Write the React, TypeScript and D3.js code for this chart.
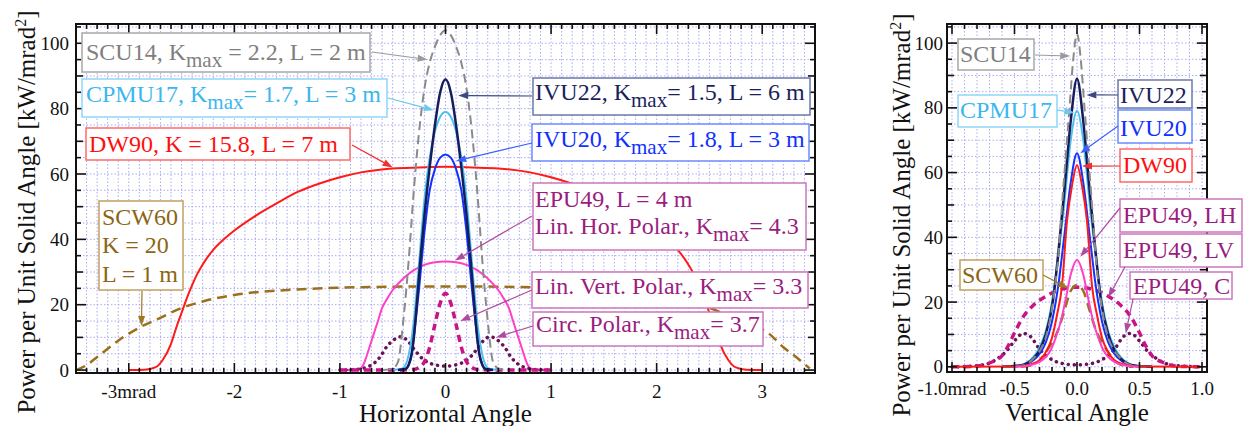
import React from "react";
import * as d3 from "d3";

type Pt = [number, number];

// ---------- Horizontal angle profiles [mrad, kW/mrad^2] ----------
const H_SCW60: Pt[] = [[-3.5,0],[-3.4,1.5],[-3.3,4],[-3.2,6.5],[-3.1,9],[-2.9,13],[-2.7,16],[-2.5,19],[-2.3,21],[-2.0,23],[-1.5,24.5],[-1.0,25.2],[-0.5,25.5],[0,25.6],[0.5,25.5],[1.0,25.2],[1.5,24.5],[2.0,23],[2.3,21],[2.5,19],[2.7,16.5],[2.9,14],[3.07,11],[3.2,7],[3.3,4.5],[3.45,0.5]];
const H_DW90: Pt[] = [[-3.0,0],[-2.85,0.1],[-2.75,0.8],[-2.68,3],[-2.6,8],[-2.55,13],[-2.5,17.5],[-2.45,22],[-2.4,26],[-2.35,29.5],[-2.3,32.3],[-2.2,36.8],[-2.1,40],[-2.0,42.7],[-1.8,47.2],[-1.6,51],[-1.4,54.5],[-1.2,57],[-1.0,59],[-0.8,60.5],[-0.5,61.7],[-0.25,62],[0,62.2],[0.25,62],[0.5,61.7],[0.8,60.5],[1.0,59],[1.2,57],[1.4,54.5],[1.6,51],[1.8,47.2],[2.0,42.7],[2.1,40],[2.2,36.8],[2.3,32.3],[2.35,29.5],[2.4,26],[2.45,22],[2.5,17.5],[2.55,13],[2.6,8],[2.68,3],[2.75,0.8],[2.85,0.1],[3.0,0]];
const H_EPU49_LH: Pt[] = [[-1,0],[-0.9,0],[-0.82,0.3],[-0.78,1.5],[-0.75,4],[-0.72,7],[-0.68,11],[-0.64,15],[-0.6,19],[-0.55,22],[-0.5,24.5],[-0.4,28],[-0.3,30.6],[-0.2,32.2],[-0.1,33],[0,33.2],[0.1,33],[0.2,32.2],[0.3,30.6],[0.4,28],[0.5,24.5],[0.55,22],[0.6,19],[0.64,15],[0.68,11],[0.72,7],[0.75,4],[0.78,1.5],[0.82,0.3],[0.9,0],[1,0]];
const H_EPU49_C: Pt[] = [[-1,0],[-0.85,0.2],[-0.75,0.8],[-0.68,2],[-0.62,4],[-0.56,7],[-0.5,9],[-0.42,10.2],[-0.36,9],[-0.3,6.5],[-0.25,4.5],[-0.2,3],[-0.1,1.6],[0,1.2],[0.1,1.6],[0.2,3],[0.25,4.5],[0.3,6.5],[0.36,9],[0.42,10.2],[0.5,9],[0.56,7],[0.62,4],[0.68,2],[0.75,0.8],[0.85,0.2],[1,0]];
const H_EPU49_LV: Pt[] = [[-1,0],[-0.5,0],[-0.3,0.2],[-0.25,0.8],[-0.2,2.5],[-0.15,7],[-0.1,14],[-0.05,20.5],[0,23.5],[0.05,20.5],[0.1,14],[0.15,7],[0.2,2.5],[0.25,0.8],[0.3,0.2],[0.5,0],[1,0]];
const H_SCU14: Pt[] = [[-0.6,0],[-0.5,0.5],[-0.45,2.5],[-0.4,15],[-0.35,33],[-0.3,55],[-0.25,73],[-0.2,86],[-0.15,94],[-0.1,99],[-0.05,102.5],[0,104],[0.05,102.5],[0.1,99],[0.15,94],[0.2,86],[0.25,73],[0.3,55],[0.35,33],[0.4,15],[0.45,2.5],[0.5,0.5],[0.6,0]];
const H_CPMU17: Pt[] = [[-0.5,0],[-0.42,0.3],[-0.38,1.5],[-0.35,4.5],[-0.3,15],[-0.25,33],[-0.2,52],[-0.15,65],[-0.1,73],[-0.05,77.5],[0,79],[0.05,77.5],[0.1,73],[0.15,65],[0.2,52],[0.25,33],[0.3,15],[0.35,4.5],[0.38,1.5],[0.42,0.3],[0.5,0]];
const H_IVU20: Pt[] = [[-0.45,0],[-0.38,0.3],[-0.35,1.5],[-0.32,5],[-0.3,10],[-0.25,25],[-0.2,42],[-0.15,55],[-0.1,61.5],[-0.05,65],[0,66],[0.05,65],[0.1,61.5],[0.15,55],[0.2,42],[0.25,25],[0.3,10],[0.32,5],[0.35,1.5],[0.38,0.3],[0.45,0]];
const H_IVU22: Pt[] = [[-0.45,0],[-0.38,0.3],[-0.35,1.5],[-0.32,5],[-0.3,10],[-0.27,21],[-0.24,33],[-0.2,47],[-0.15,62],[-0.1,75],[-0.05,85],[0,89],[0.05,85],[0.1,75],[0.15,62],[0.2,47],[0.24,33],[0.27,21],[0.3,10],[0.32,5],[0.35,1.5],[0.38,0.3],[0.45,0]];

// ---------- Vertical angle profiles [mrad, kW/mrad^2] ----------
const V_SCW60: Pt[] = [[-0.45,0],[-0.35,0.6],[-0.3,2],[-0.25,4.5],[-0.2,7.5],[-0.15,11.5],[-0.1,17.5],[-0.05,23.5],[0,25.3],[0.05,23.5],[0.1,17.5],[0.15,11.5],[0.2,7.5],[0.25,4.5],[0.3,2],[0.35,0.6],[0.45,0]];
const V_DW90: Pt[] = [[-1,0],[-0.5,0.1],[-0.4,0.5],[-0.3,2],[-0.25,4.5],[-0.2,9],[-0.16,16],[-0.12,25],[-0.08,45],[-0.04,56],[0,62.3],[0.04,56],[0.08,45],[0.12,25],[0.16,16],[0.2,9],[0.25,4.5],[0.3,2],[0.4,0.5],[0.5,0.1],[1,0]];
const V_EPU49_LH: Pt[] = [[-0.5,0],[-0.4,0.3],[-0.3,1.5],[-0.25,3],[-0.21,5.2],[-0.17,9],[-0.13,14],[-0.09,21],[-0.05,28.5],[0,33],[0.05,28.5],[0.09,21],[0.13,14],[0.17,9],[0.21,5.2],[0.25,3],[0.3,1.5],[0.4,0.3],[0.5,0]];
const V_EPU49_C: Pt[] = [[-1,0],[-0.85,0.2],[-0.75,0.6],[-0.68,1.5],[-0.62,3],[-0.56,5],[-0.5,8],[-0.43,10.3],[-0.37,9.3],[-0.31,6],[-0.25,3.5],[-0.2,2.2],[-0.1,0.9],[0,0.6],[0.1,0.9],[0.2,2.2],[0.25,3.5],[0.31,6],[0.37,9.3],[0.43,10.3],[0.5,8],[0.56,5],[0.62,3],[0.68,1.5],[0.75,0.6],[0.85,0.2],[1,0]];
const V_EPU49_LV: Pt[] = [[-1,0],[-0.85,0.1],[-0.75,0.5],[-0.68,1.5],[-0.61,3],[-0.55,6.5],[-0.5,10.5],[-0.43,15.5],[-0.35,19],[-0.24,22],[-0.12,24],[0,24.6],[0.12,24],[0.24,22],[0.35,19],[0.43,15.5],[0.5,10.5],[0.55,6.5],[0.61,3],[0.68,1.5],[0.75,0.5],[0.85,0.1],[1,0]];
const V_SCU14: Pt[] = [[-0.6,0],[-0.45,0.3],[-0.35,2.5],[-0.29,5.5],[-0.25,9],[-0.2,18],[-0.15,34],[-0.12,50],[-0.09,65],[-0.06,80],[-0.03,95],[0,103],[0.03,95],[0.06,80],[0.09,65],[0.12,50],[0.15,34],[0.2,18],[0.25,9],[0.29,5.5],[0.35,2.5],[0.45,0.3],[0.6,0]];
const V_CPMU17: Pt[] = [[-0.6,0],[-0.45,0.6],[-0.35,3],[-0.3,6],[-0.25,11],[-0.2,20],[-0.15,34],[-0.1,51],[-0.05,70],[0,79],[0.05,70],[0.1,51],[0.15,34],[0.2,20],[0.25,11],[0.3,6],[0.35,3],[0.45,0.6],[0.6,0]];
const V_IVU20: Pt[] = [[-0.6,0],[-0.45,0.4],[-0.35,2],[-0.3,4],[-0.25,7.5],[-0.2,14],[-0.15,25],[-0.1,41],[-0.05,57],[0,66],[0.05,57],[0.1,41],[0.15,25],[0.2,14],[0.25,7.5],[0.3,4],[0.35,2],[0.45,0.4],[0.6,0]];
const V_IVU22: Pt[] = [[-0.6,0],[-0.45,0.4],[-0.35,2.5],[-0.3,5],[-0.25,10],[-0.19,21],[-0.15,35],[-0.1,55],[-0.05,76],[0,89],[0.05,76],[0.1,55],[0.15,35],[0.19,21],[0.25,10],[0.3,5],[0.35,2.5],[0.45,0.4],[0.6,0]];

// ---------- Tick labels ----------
const H_TICKS = [-3, -2, -1, 0, 1, 2, 3];
const H_TICK_LABELS = ["-3mrad", "-2", "-1", "0", "1", "2", "3"];
const V_TICKS = [-1, -0.5, 0, 0.5, 1];
const V_TICK_LABELS = ["-1.0mrad", "-0.5", "0.0", "0.5", "1.0"];
const Y_TICKS = [0, 20, 40, 60, 80, 100];

const FONT = "'Liberation Serif', 'Times New Roman', Times, serif";

type Style = { color: string; width: number; dash?: string; cap?: "round" | "butt" };
const S_SCW60: Style = { color: "#9b6f1c", width: 2.5, dash: "10 6" };
const S_DW90: Style = { color: "#ff1a1a", width: 2 };
const S_LH: Style = { color: "#ff3fc8", width: 2 };
const S_C: Style = { color: "#6b1256", width: 3.5, dash: "0.1 6", cap: "round" };
const S_LV: Style = { color: "#c81487", width: 3.5, dash: "7 5" };
const S_SCU14: Style = { color: "#8a8a8a", width: 2, dash: "9 5" };
const S_CPMU17: Style = { color: "#4cc0f2", width: 2 };
const S_IVU20: Style = { color: "#1432ff", width: 2 };
const S_IVU22: Style = { color: "#151d5c", width: 2.5 };

type Seg = { t: string; sub?: boolean };
type Label = {
  box: [number, number, number, number];
  text: string; border: string; arrow: string;
  lines: Seg[][]; baselines: number[]; tx: number;
  from: [number, number]; to: [number, number];
};

const EPU_T = "#9a1d80", EPU_B = "#cc77bb", EPU_A = "#b04aa0";

const H_LABELS: Label[] = [
  { box: [82, 33, 288, 39], text: "#7f7f7f", border: "#a8a8a8", arrow: "#9a9a9a", tx: 86, baselines: [60],
    lines: [[{ t: "SCU14, K" }, { t: "max", sub: true }, { t: " = 2.2, L = 2 m" }]], from: [372, 52], to: [-0.17, 95] },
  { box: [82, 79, 305, 38], text: "#3cb6ee", border: "#8ed6f8", arrow: "#6cc8f0", tx: 86, baselines: [102],
    lines: [[{ t: "CPMU17, K" }, { t: "max", sub: true }, { t: "= 1.7, L = 3 m" }]], from: [388, 98], to: [-0.11, 79.5] },
  { box: [86, 128, 264, 32], text: "#ff1010", border: "#ff6a6a", arrow: "#ee3030", tx: 89, baselines: [152],
    lines: [[{ t: "DW90, K = 15.8, L = 7 m" }]], from: [352, 145], to: [-0.5, 62] },
  { box: [99, 201, 84, 89], text: "#8b6514", border: "#c0a060", arrow: "#a07820", tx: 102, baselines: [225, 253, 282],
    lines: [[{ t: "SCW60" }], [{ t: "K = 20" }], [{ t: "L = 1 m" }]], from: [142, 291], to: [-2.88, 13.5] },
  { box: [533, 78, 277, 37], text: "#1a1f5c", border: "#6a78a8", arrow: "#3a4a80", tx: 535, baselines: [100],
    lines: [[{ t: "IVU22, K" }, { t: "max", sub: true }, { t: "= 1.5, L = 6 m" }]], from: [532, 96], to: [0.12, 84] },
  { box: [532, 124, 277, 37], text: "#1030ff", border: "#6a8aff", arrow: "#3a60ff", tx: 535, baselines: [147],
    lines: [[{ t: "IVU20, K" }, { t: "max", sub: true }, { t: "= 1.8, L = 3 m" }]], from: [532, 143], to: [0.1, 64] },
  { box: [533, 183, 273, 67], text: EPU_T, border: EPU_B, arrow: EPU_A, tx: 535, baselines: [207, 234],
    lines: [[{ t: "EPU49, L = 4 m" }], [{ t: "Lin. Hor. Polar., K" }, { t: "max", sub: true }, { t: "= 4.3" }]], from: [532, 216], to: [0.09, 33.5] },
  { box: [532, 272, 276, 36], text: EPU_T, border: EPU_B, arrow: EPU_A, tx: 535, baselines: [294],
    lines: [[{ t: "Lin. Vert. Polar., K" }, { t: "max", sub: true }, { t: "= 3.3" }]], from: [532, 290], to: [0.14, 15] },
  { box: [533, 312, 230, 34], text: EPU_T, border: EPU_B, arrow: EPU_A, tx: 536, baselines: [332],
    lines: [[{ t: "Circ. Polar., K" }, { t: "max", sub: true }, { t: "= 3.7" }]], from: [533, 326], to: [0.48, 10] },
];

const V_LABELS: Label[] = [
  { box: [958, 39, 76, 31], text: "#7f7f7f", border: "#a8a8a8", arrow: "#9a9a9a", tx: 960, baselines: [62],
    lines: [[{ t: "SCU14" }]], from: [1035, 55], to: [-0.054, 96] },
  { box: [958, 95, 99, 32], text: "#3cb6ee", border: "#8ed6f8", arrow: "#6cc8f0", tx: 960, baselines: [118],
    lines: [[{ t: "CPMU17" }]], from: [1057, 110], to: [-0.02, 78.5] },
  { box: [1118, 80, 74, 28], text: "#1a1f5c", border: "#6a78a8", arrow: "#3a4a80", tx: 1120, baselines: [103],
    lines: [[{ t: "IVU22" }]], from: [1118, 95], to: [0.075, 84] },
  { box: [1118, 110, 74, 33], text: "#1030ff", border: "#6a8aff", arrow: "#3a60ff", tx: 1120, baselines: [136],
    lines: [[{ t: "IVU20" }]], from: [1118, 126], to: [0.026, 66] },
  { box: [1120, 149, 72, 33], text: "#ff1010", border: "#ff6a6a", arrow: "#ee3030", tx: 1123, baselines: [173],
    lines: [[{ t: "DW90" }]], from: [1120, 166], to: [0.04, 62] },
  { box: [1120, 199, 122, 33], text: EPU_T, border: EPU_B, arrow: EPU_A, tx: 1123, baselines: [223],
    lines: [[{ t: "EPU49, LH" }]], from: [1120, 208], to: [0.026, 34] },
  { box: [1120, 234, 122, 33], text: EPU_T, border: EPU_B, arrow: EPU_A, tx: 1123, baselines: [258],
    lines: [[{ t: "EPU49, LV" }]], from: [1125, 267], to: [0.25, 21.5] },
  { box: [1130, 272, 102, 27], text: EPU_T, border: EPU_B, arrow: EPU_A, tx: 1133, baselines: [294],
    lines: [[{ t: "EPU49, C" }]], from: [1133, 299], to: [0.39, 10.4] },
  { box: [960, 260, 83, 30], text: "#8b6514", border: "#c0a060", arrow: "#a07820", tx: 962, baselines: [283],
    lines: [[{ t: "SCW60" }]], from: [1043, 275], to: [-0.07, 24.3] },
];

const H_SERIES: [Pt[], Style][] = [
  [H_SCW60, S_SCW60], [H_DW90, S_DW90], [H_EPU49_LH, S_LH], [H_EPU49_C, S_C], [H_EPU49_LV, S_LV],
  [H_SCU14, S_SCU14], [H_CPMU17, S_CPMU17], [H_IVU20, S_IVU20], [H_IVU22, S_IVU22],
];
const V_SERIES: [Pt[], Style][] = [
  [V_EPU49_C, S_C], [V_EPU49_LV, S_LV], [V_SCW60, S_SCW60], [V_CPMU17, S_CPMU17], [V_IVU20, S_IVU20],
  [V_IVU22, S_IVU22], [V_SCU14, S_SCU14], [V_DW90, S_DW90], [V_EPU49_LH, S_LH],
];

type PanelProps = {
  id: string; left: number; right: number; top: number; bottom: number;
  xDomain: [number, number]; yDomain: [number, number];
  xMajor: number[]; xLabels: string[]; minorStep: number;
  series: [Pt[], Style][]; labels: Label[];
  yLabelRight: number; yTitleX: number; yTitleY: number; xTitle: string;
  tickBase: number; titleBase: number;
};

function Arrow({ x1, y1, x2, y2, color }: { x1: number; y1: number; x2: number; y2: number; color: string }) {
  const a = Math.atan2(y2 - y1, x2 - x1);
  const L = 10, W = 3.5;
  const bx = x2 - L * Math.cos(a), by = y2 - L * Math.sin(a);
  const p = [
    [x2, y2],
    [bx + W * Math.sin(a), by - W * Math.cos(a)],
    [bx - W * Math.sin(a), by + W * Math.cos(a)],
  ];
  return (
    <g>
      <line x1={x1} y1={y1} x2={bx} y2={by} stroke={color} strokeWidth={1.2} />
      <polygon points={p.map((q) => q.join(",")).join(" ")} fill={color} />
    </g>
  );
}

function Panel(p: PanelProps) {
  const xs = d3.scaleLinear().domain(p.xDomain).range([p.left, p.right]);
  const ys = d3.scaleLinear().domain(p.yDomain).range([p.bottom, p.top]);
  const line = d3.line<Pt>().x((d) => xs(d[0])).y((d) => ys(d[1])).curve(d3.curveMonotoneX);
  const nMinor = Math.round((p.xDomain[1] - p.xDomain[0]) / p.minorStep) + 2;
  const start = Math.ceil(p.xDomain[0] / p.minorStep - 1e-9);
  const xMinor: number[] = [];
  for (let i = 0; i < nMinor; i++) {
    const v = (start + i) * p.minorStep;
    if (v <= p.xDomain[1] + 1e-9) xMinor.push(+v.toFixed(3));
  }
  const yMinor = d3.range(0, 106, 5);
  const isMajorX = (v: number) => p.xMajor.some((m) => Math.abs(m - v) < 1e-6);
  const tickColor = "#111";
  return (
    <g>
      <defs>
        <clipPath id={p.id + "clip"}>
          <rect x={p.left} y={p.top} width={p.right - p.left} height={p.bottom - p.top} />
        </clipPath>
      </defs>
      <g stroke="#8f8ff2" strokeWidth={1} strokeDasharray="1.5 2" opacity={0.75}>
        {xMinor.map((v) => (
          <line key={"gx" + v} x1={xs(v)} x2={xs(v)} y1={p.top} y2={p.bottom} />
        ))}
        {yMinor.map((v) => (
          <line key={"gy" + v} y1={ys(v)} y2={ys(v)} x1={p.left} x2={p.right} />
        ))}
      </g>
      <g clipPath={`url(#${p.id}clip)`} fill="none">
        {p.series.map(([data, s], i) => (
          <path key={i} d={line(data) || ""} stroke={s.color} strokeWidth={s.width}
            strokeDasharray={s.dash} strokeLinecap={s.cap || "butt"} strokeLinejoin="round" />
        ))}
      </g>
      <g stroke={tickColor} strokeWidth={1.6}>
        {xMinor.map((v) => {
          const l = isMajorX(v) ? 10 : 5;
          return (
            <g key={"tx" + v}>
              <line x1={xs(v)} x2={xs(v)} y1={p.bottom} y2={p.bottom - l} />
              <line x1={xs(v)} x2={xs(v)} y1={p.top} y2={p.top + l} />
            </g>
          );
        })}
        {yMinor.map((v) => {
          const l = v % 20 === 0 ? 10 : v % 10 === 0 ? 7 : 5;
          return (
            <g key={"ty" + v}>
              <line y1={ys(v)} y2={ys(v)} x1={p.left} x2={p.left + l} />
              <line y1={ys(v)} y2={ys(v)} x1={p.right} x2={p.right - l} />
            </g>
          );
        })}
      </g>
      <rect x={p.left} y={p.top} width={p.right - p.left} height={p.bottom - p.top} fill="none" stroke="#111" strokeWidth={2} />
      <g fontFamily={FONT} fontSize={19} fill="#111">
        {p.xMajor.map((v, i) => (
          <text key={"xl" + v} x={xs(v)} y={p.tickBase} textAnchor="middle">{p.xLabels[i]}</text>
        ))}
        {Y_TICKS.map((v) => (
          <text key={"yl" + v} x={p.yLabelRight} y={ys(v)} dy="0.35em" textAnchor="end">{v}</text>
        ))}
      </g>
      <text x={(p.left + p.right) / 2} y={p.titleBase} textAnchor="middle" fontFamily={FONT} fontSize={25} fill="#111">{p.xTitle}</text>
      <text transform={`translate(${p.yTitleX},${p.yTitleY}) rotate(-90)`} textAnchor="middle" fontFamily={FONT} fontSize={25} fill="#111">
        Power per Unit Solid Angle [kW/mrad<tspan dy={-9} fontSize={16}>2</tspan><tspan dy={9}>]</tspan>
      </text>
      {p.labels.map((lb, i) => (
        <g key={"lb" + i}>
          <rect x={lb.box[0]} y={lb.box[1]} width={lb.box[2]} height={lb.box[3]} fill="#fff" stroke={lb.border} strokeWidth={1.5} />
          {lb.lines.map((segs, j) => (
            <text key={j} x={lb.tx} y={lb.baselines[j]} fontFamily={FONT} fontSize={24} fill={lb.text}>
              {segs.map((s, k) => {
                const prevSub = k > 0 && segs[k - 1].sub;
                if (s.sub) return <tspan key={k} dy={7} fontSize={21}>{s.t}</tspan>;
                return <tspan key={k} dy={prevSub ? -7 : 0} fontSize={24} style={{ whiteSpace: "pre" }}>{s.t}</tspan>;
              })}
            </text>
          ))}
          <Arrow x1={lb.from[0]} y1={lb.from[1]} x2={xs(lb.to[0])} y2={ys(lb.to[1])} color={lb.arrow} />
        </g>
      ))}
    </g>
  );
}

export default function App() {
  return (
    <svg width={1246} height={426} style={{ position: "absolute", left: 0, top: 0, background: "#fff" }}>
      <rect x={0} y={0} width={1246} height={426} fill="#fff" />
      <Panel id="h" left={76} right={815} top={24} bottom={373} xDomain={[-3.5, 3.5]} yDomain={[-0.9, 105.9]}
        xMajor={H_TICKS} xLabels={H_TICK_LABELS} minorStep={0.1} series={H_SERIES} labels={H_LABELS}
        yLabelRight={69} yTitleX={35} yTitleY={212} xTitle="Horizontal Angle" tickBase={398} titleBase={422} />
      <Panel id="v" left={947} right={1207} top={24} bottom={372} xDomain={[-1.04, 1.04]} yDomain={[-1.6, 105.9]}
        xMajor={V_TICKS} xLabels={V_TICK_LABELS} minorStep={0.1} series={V_SERIES} labels={V_LABELS}
        yLabelRight={943} yTitleX={910} yTitleY={215} xTitle="Vertical Angle" tickBase={395} titleBase={421} />
    </svg>
  );
}
